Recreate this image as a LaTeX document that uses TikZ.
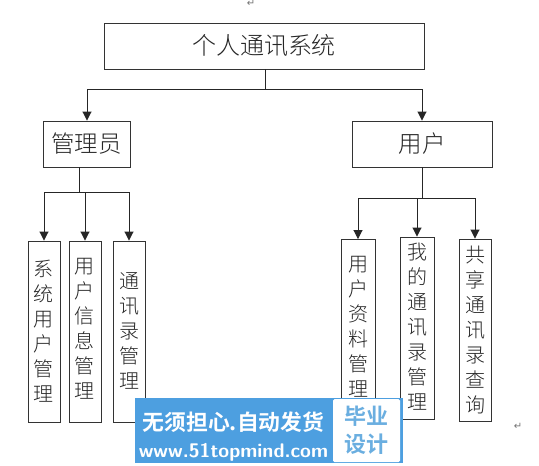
\documentclass[tikz,border=0pt]{standalone}
\usepackage{fontspec}
\setmainfont{Noto Sans CJK SC}[UprightFont=* Light,BoldFont=* Bold]
\newfontfamily\markfont{DejaVu Sans}
\usetikzlibrary{arrows.meta}
\newcommand{\leaftext}[2]{\smash{\raisebox{#1pt}{\parbox[t]{30pt}{\centering\fontsize{20}{25}\selectfont #2}}}}
\tikzset{
  x=1pt,y=-1pt,
  boxnode/.style={draw=black!80,line width=0.9pt,fill=white,inner sep=0pt,text=black!85},
  topbox/.style={boxnode,minimum width=320pt,minimum height=46pt,font=\fontsize{24}{26}\selectfont},
  midbox/.style={boxnode,minimum height=46pt,font=\fontsize{23.5}{26}\selectfont},
  leafbox/.style={boxnode,minimum width=32pt},
  link/.style={draw=black!85,line width=0.9pt},
  arrowlink/.style={link,-{Triangle[length=9pt,width=9pt]}},
  retmark/.style={inner sep=0pt,text=black!55,font=\markfont\fontsize{10}{10}\selectfont},
}
\definecolor{bannerblue}{HTML}{4D9FE0}
\definecolor{badgeblue}{HTML}{6AAEE0}
\begin{document}
\begin{tikzpicture}
\useasboundingbox (0,0) rectangle (539,466);
\fill[white] (0,0) rectangle (539,466);

\node[topbox] (root) at (264,46) {个人通讯系统};
\node[midbox,minimum width=87pt] (admin) at (86.5,144) {管理员};
\node[midbox,minimum width=140pt] (user) at (422,144) {用户};

\node[leafbox,minimum height=181pt] (a1) at (44,331.5) {\leaftext{55}{系\\统\\用\\户\\管\\理}};
\node[leafbox,minimum height=181pt] (a2) at (85,331.5) {\leaftext{58}{用\\户\\信\\息\\管\\理}};
\node[leafbox,minimum height=181pt] (a3) at (129,331.5) {\leaftext{43}{通\\讯\\录\\管\\理}};

\node[leafbox,minimum width=34pt,minimum height=181pt] (u1) at (358,330) {\leaftext{59}{用\\户\\资\\料\\管\\理}};
\node[leafbox,minimum width=34pt,minimum height=182pt] (u2) at (417,328) {\leaftext{69}{我\\的\\通\\讯\\录\\管\\理}};
\node[leafbox,minimum height=182pt] (u3) at (475,330) {\leaftext{68}{共\\享\\通\\讯\\录\\查\\询}};

% root connectors
\coordinate (rootstem) at (265,89);
\draw[link] (root.south -| rootstem) -- (rootstem);
\draw[arrowlink] (rootstem) -| (admin.north -| 87,0);
\draw[arrowlink] (rootstem) -| (user.north);

% admin connectors
\coordinate (adminstem) at (79,192);
\draw[link] (admin.south -| adminstem) -- (adminstem);
\draw[arrowlink] (adminstem) -| (a1.north);
\draw[arrowlink] (adminstem) -| (a2.north);
\draw[arrowlink] (adminstem) -| (a3.north);

% user connectors
\coordinate (userstem) at (422,198);
\draw[link] (user.south) -- (userstem);
\draw[arrowlink] (userstem) -| (u1.north);
\draw[arrowlink] (userstem) -| (u2.north);
\draw[arrowlink] (userstem) -| (u3.north);

% paragraph marks
\node[retmark] (mark1) at (251,3) {↵};
\node[retmark] (mark2) at (518,426) {↵};

% banner
\node[fill=bannerblue,minimum width=268pt,minimum height=65pt,inner sep=0pt] (banner) at (269,430.5) {};
\node[fill=white,rounded corners=1.5pt,minimum width=67pt,minimum height=63pt,inner sep=0pt,align=center,text=badgeblue,font=\bfseries\fontsize{22}{28}\selectfont] (badge) at (366.5,430.5) {毕业\\设计};
\node[inner sep=0pt,text=white,font=\bfseries\fontsize{21.8}{22}\selectfont] (slogan) at (233.5,422) {无须担心.自动发货};
\node[inner sep=0pt,text=white,font=\sffamily\bfseries\fontsize{19.7}{20}\selectfont] (url) at (233.5,452) {www.51topmind.com};
\end{tikzpicture}
\end{document}
